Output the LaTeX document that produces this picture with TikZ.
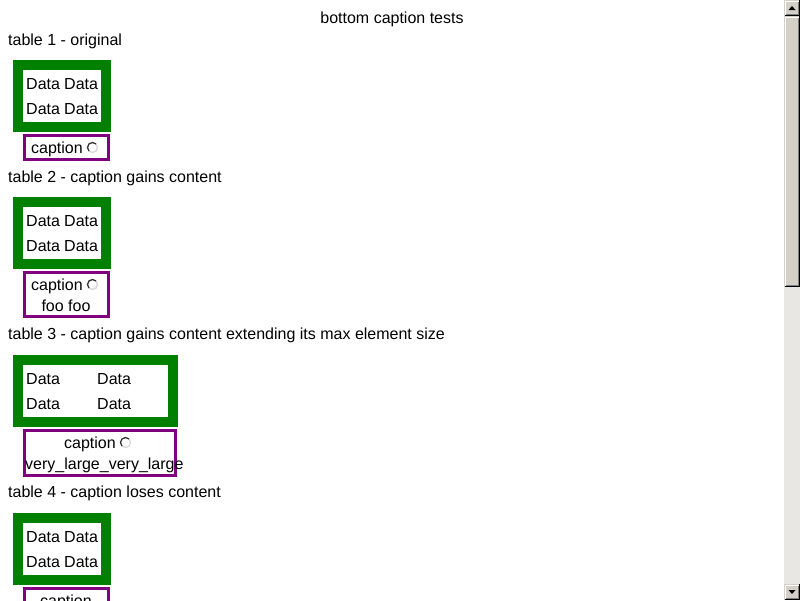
\documentclass[tikz,border=0pt]{standalone}
\usepackage{fontspec}
\setmainfont{Liberation Sans}
\definecolor{tgreen}{RGB}{0,128,0}
\definecolor{tpurple}{RGB}{128,0,128}
\definecolor{sbface}{RGB}{212,208,200}
\definecolor{sbtrough}{RGB}{233,231,227}
\definecolor{sbdark}{RGB}{128,128,128}
\definecolor{rdark}{RGB}{50,50,50}
\definecolor{rlight}{RGB}{215,215,215}
\begin{document}
\begin{tikzpicture}[x=1pt,y=-1pt,
  txt/.style={anchor=base west,inner sep=0pt,font=\fontsize{16}{19}\selectfont},
  ctxt/.style={anchor=base,inner sep=0pt,font=\fontsize{16}{19}\selectfont},
  capbox/.style={draw=tpurple,line width=3pt},
  radiodark/.style={draw=rdark,line width=1.3pt},
  radiolight/.style={draw=rlight,line width=1.3pt}]
\useasboundingbox[fill=white] (0,0) rectangle (800,600);
\newcommand{\radio}[1]{%
  \draw[radiolight] (#1) ++(315:5) arc[start angle=-45,end angle=135,radius=5];
  \draw[radiodark] (#1) ++(135:5) arc[start angle=135,end angle=315,radius=5];}
% title
\node[ctxt] (title) at (392,23) {bottom caption tests};
% ---------- table 1
\node[txt] (l1) at (8,45) {table 1 - original};
\fill[tgreen] (13,60) rectangle (111,132);
\fill[white] (23,70) rectangle (101,122);
\node[txt] (t1a) at (26,89) {Data};
\node[txt] (t1b) at (64,89) {Data};
\node[txt] (t1c) at (26,114) {Data};
\node[txt] (t1d) at (64,114) {Data};
\draw[capbox] (24.5,135.5) rectangle (108.5,159.5);
\node[txt] (c1) at (31,153) {caption};
\coordinate (r1) at (92.5,147.5);
\radio{r1}
% ---------- table 2
\node[txt] (l2) at (8,182) {table 2 - caption gains content};
\fill[tgreen] (13,197) rectangle (111,269);
\fill[white] (23,207) rectangle (101,259);
\node[txt] (t2a) at (26,226) {Data};
\node[txt] (t2b) at (64,226) {Data};
\node[txt] (t2c) at (26,251) {Data};
\node[txt] (t2d) at (64,251) {Data};
\draw[capbox] (24.5,272.5) rectangle (108.5,316.5);
\node[txt] (c2) at (31,290) {caption};
\coordinate (r2) at (92.5,284.5);
\radio{r2}
\node[ctxt] (c2b) at (66,311) {foo foo};
% ---------- table 3
\node[txt] (l3) at (8,339) {table 3 - caption gains content extending its max element size};
\fill[tgreen] (13,355) rectangle (178,427);
\fill[white] (23,365) rectangle (168,417);
\node[txt] (t3a) at (26,384) {Data};
\node[txt] (t3b) at (97,384) {Data};
\node[txt] (t3c) at (26,409) {Data};
\node[txt] (t3d) at (97,409) {Data};
\draw[capbox] (24.5,430.5) rectangle (175.5,475.5);
\node[txt] (c3) at (64,448) {caption};
\coordinate (r3) at (125.5,442.5);
\radio{r3}
\node[txt] (c3b) at (25,469) {very\_large\_very\_large};
% ---------- table 4
\node[txt] (l4) at (8,497) {table 4 - caption loses content};
\fill[tgreen] (13,513) rectangle (111,585);
\fill[white] (23,523) rectangle (101,575);
\node[txt] (t4a) at (26,542) {Data};
\node[txt] (t4b) at (64,542) {Data};
\node[txt] (t4c) at (26,567) {Data};
\node[txt] (t4d) at (64,567) {Data};
\draw[capbox] (24.5,588.5) rectangle (108.5,620);
\node[ctxt] (c4) at (66,606) {caption};
% ---------- scrollbar
\fill[sbtrough] (784,0) rectangle (800,600);
\foreach \ya/\yb [count=\i] in {0/16,16/287,584/600}{
  \fill[sbface] (784,\ya) rectangle (800,\yb);
  \draw[white,line width=1pt] (785.5,\yb-1.5) -- (785.5,\ya+1.5) -- (798.5,\ya+1.5);
  \draw[sbdark,line width=1pt] (785.5,\yb-1.5) -- (798.5,\yb-1.5) -- (798.5,\ya+1.5);
  \draw[black,line width=1pt] (784.5,\yb-0.5) -- (799.5,\yb-0.5) -- (799.5,\ya);
}
\fill[black] (788.5,10) -- (795.5,10) -- (792,6) -- cycle;
\fill[black] (788.5,590) -- (795.5,590) -- (792,594) -- cycle;
\end{tikzpicture}
\end{document}
